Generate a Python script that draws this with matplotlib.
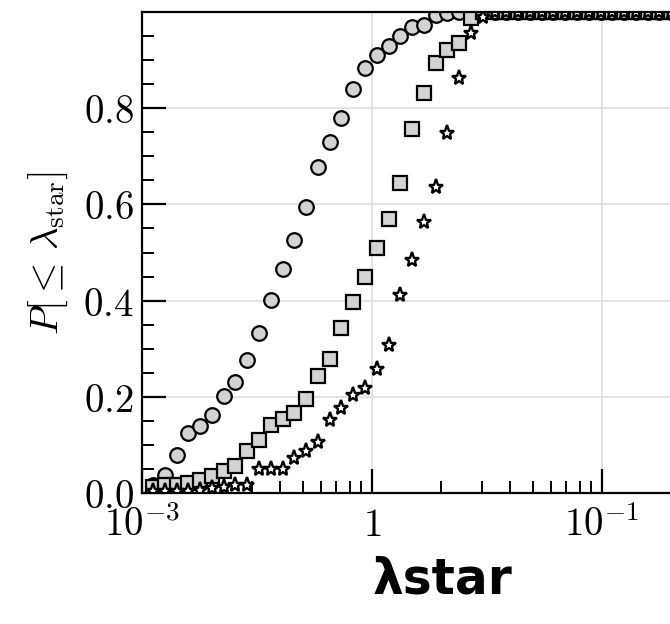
#Plot: cumulative distribution of lambda_star for three samples (log x)
import numpy as np
import matplotlib
matplotlib.use("Agg")
import matplotlib.pyplot as plt
from matplotlib.ticker import FixedLocator, MultipleLocator, LogLocator, NullFormatter

plt.rcParams.update({'mathtext.fontset': 'cm'})

# x grid shared by the three series
lam = [1.117e-3, 1.256e-3, 1.413e-3, 1.591e-3, 1.790e-3, 2.014e-3, 2.265e-3, 2.548e-3,
       2.868e-3, 3.227e-3, 3.631e-3, 4.085e-3, 4.596e-3, 5.171e-3, 5.818e-3, 6.546e-3,
       7.365e-3, 8.287e-3, 9.324e-3, 1.049e-2, 1.180e-2, 1.328e-2, 1.494e-2, 1.681e-2,
       1.892e-2, 2.128e-2, 2.395e-2, 2.694e-2, 3.032e-2, 3.411e-2, 3.838e-2, 4.318e-2,
       4.858e-2, 5.466e-2, 6.150e-2, 6.920e-2, 7.786e-2, 8.760e-2, 9.856e-2, 1.109e-1,
       1.248e-1, 1.404e-1, 1.580e-1, 1.777e-1, 2.000e-1]

p_circle = [0.017, 0.037, 0.079, 0.125, 0.139, 0.162, 0.201, 0.230, 0.276, 0.332,
            0.401, 0.465, 0.525, 0.594, 0.677, 0.729, 0.779, 0.839, 0.883, 0.910,
            0.930, 0.951, 0.968, 0.974, 0.993, 0.997, 1.0, 1.0, 1.0, 1.0,
            1.0, 1.0, 1.0, 1.0, 1.0, 1.0, 1.0, 1.0, 1.0, 1.0,
            1.0, 1.0, 1.0, 1.0, 1.0]
p_square = [0.012, 0.017, 0.017, 0.021, 0.027, 0.035, 0.046, 0.056, 0.087, 0.110,
            0.141, 0.154, 0.166, 0.195, 0.243, 0.278, 0.343, 0.397, 0.449, 0.509,
            0.569, 0.644, 0.756, 0.831, 0.893, 0.922, 0.935, 0.987, 1.0, 1.0,
            1.0, 1.0, 1.0, 1.0, 1.0, 1.0, 1.0, 1.0, 1.0, 1.0,
            1.0, 1.0, 1.0, 1.0, 1.0]
p_star = [0.004, 0.004, 0.004, 0.004, 0.006, 0.010, 0.012, 0.017, 0.017, 0.050,
          0.050, 0.050, 0.073, 0.087, 0.106, 0.152, 0.177, 0.204, 0.218, 0.258,
          0.307, 0.411, 0.484, 0.563, 0.636, 0.748, 0.862, 0.957, 0.989, 1.0,
          1.0, 1.0, 1.0, 1.0, 1.0, 1.0, 1.0, 1.0, 1.0, 1.0,
          1.0, 1.0, 1.0, 1.0, 1.0]

xtick_pos = [1e-3, 1e-2, 1e-1]
xtick_lab = ["$10^{-3}$", "$1$", "$10^{-1}$"]
ytick_pos = [0.0, 0.2, 0.4, 0.6, 0.8]
ytick_lab = ["$0.0$", "$0.2$", "$0.4$", "$0.6$", "$0.8$"]

fig = plt.figure(figsize=(6.70, 6.24), dpi=100)
ax = fig.add_axes([142/670, 131/624, 528/670, 481/624])

ax.plot(lam, p_circle, linestyle="none", marker="o", ms=10.5, mfc="#d3d3d3",
        mec="black", mew=1.6)
ax.plot(lam, p_square, linestyle="none", marker="s", ms=10.5, mfc="#d3d3d3",
        mec="black", mew=1.6)
ax.plot(lam, p_star, linestyle="none", marker="*", ms=11, mfc="white",
        mec="black", mew=1.7)

ax.set_xscale("log")
ax.set_xlim(1e-3, 10**(-3 + 528/230))
ax.set_ylim(0, 1.0)

ax.xaxis.set_major_locator(FixedLocator(xtick_pos))
ax.set_xticklabels(xtick_lab)
ax.xaxis.set_minor_locator(LogLocator(base=10, subs=np.arange(2, 10)))
ax.xaxis.set_minor_formatter(NullFormatter())
ax.yaxis.set_major_locator(FixedLocator(ytick_pos))
ax.set_yticklabels(ytick_lab)
ax.yaxis.set_minor_locator(MultipleLocator(0.05))

ax.tick_params(which="major", direction="in", length=17, width=1.6, labelsize=28)
ax.tick_params(which="minor", direction="in", length=8.5, width=1.4)
ax.tick_params(axis="x", which="major", pad=9)
ax.tick_params(axis="y", which="major", pad=6)
ax.tick_params(top=False, right=False, which="both")

ax.grid(True, which="major", color="#dddddd", linewidth=1.2)
ax.set_axisbelow(True)

for s in ["left", "bottom", "top"]:
    ax.spines[s].set_linewidth(1.6)
ax.spines["right"].set_visible(False)

ax.set_ylabel(r"$P[\leq\,\lambda_{\rm star}]$", fontsize=28)
ax.yaxis.set_label_coords(-0.136, 0.5)
ax.set_xlabel("λstar", fontsize=35, fontweight="bold", family="DejaVu Sans")
ax.xaxis.set_label_coords(0.57, -0.13)

fig.savefig("out.png", dpi=100)
